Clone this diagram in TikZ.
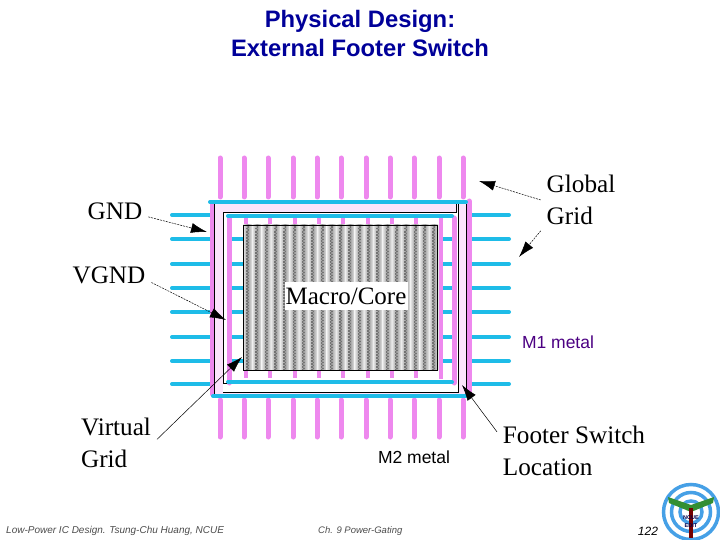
\documentclass[tikz,border=0pt]{standalone}
\usepackage{fontspec}
\setmainfont{Liberation Serif}
\setsansfont{Liberation Sans}
\usetikzlibrary{arrows.meta}
\definecolor{railblue}{RGB}{30,188,232}
\definecolor{strappink}{RGB}{238,136,238}
\definecolor{ringpink}{RGB}{251,228,251}
\definecolor{titleblue}{RGB}{0,0,153}
\definecolor{m1purple}{RGB}{75,0,130}
\definecolor{logoblue}{RGB}{70,160,230}
\tikzset{
    lbl/.style={inner sep=0pt,outer sep=6pt,align=left,font=\fontsize{25.2}{32}\selectfont},
    metal/.style={inner sep=0pt,font=\sffamily\fontsize{17.5}{20}\selectfont},
    foot/.style={inner sep=0pt,text=black!70,font=\sffamily\itshape\fontsize{9.5}{11}\selectfont},
    rail/.style={railblue,line width=4pt,line cap=round},
    strap/.style={strappink,line width=5pt,line cap=round},
    ptr/.style={-{Latex[length=16pt,width=10pt]},line width=.5pt},
    ptrdash/.style={ptr,dash pattern=on 2pt off 1pt},
    check/.style={black!55,line width=1.5pt,dash pattern=on 1.5pt off 1.5pt}
}
\begin{document}
\begin{tikzpicture}[x=1pt,y=-1pt]
    \useasboundingbox (0,0) rectangle (720,540);
    \node[inner sep=0pt,align=center,text=titleblue,font=\sffamily\bfseries\fontsize{23.8}{29}\selectfont] (title) at (360,33) {Physical Design:\\External Footer Switch};
    \fill[ringpink] (214,204) rectangle (466,394);
    \fill[white] (223,212) rectangle (458,392);
    \foreach \ypos in {215,239,264,288,312,337,361,384} {
        \draw[rail] (172,\ypos) -- (210,\ypos);
        \draw[rail] (471,\ypos) -- (509,\ypos);
    }
    \foreach \ypos in {239,264,288,312,337,361} {
        \draw[railblue,line width=4pt] (231,\ypos) -- (243,\ypos);
        \draw[railblue,line width=4pt] (437,\ypos) -- (452,\ypos);
    }
    \foreach \xpos in {220,244,268,293,317,341,366,390,414,439,463} {
        \draw[strap] (\xpos,158) -- (\xpos,197);
        \draw[strap] (\xpos,400) -- (\xpos,437);
    }
    \foreach \xpos in {246,270,295,319,343,368,392,416} {
        \draw[strappink,line width=4pt] (\xpos,216) -- (\xpos,225);
        \draw[strappink,line width=4pt] (\xpos,370) -- (\xpos,378);
    }
    \draw[strap] (212,204) -- (212,394);
    \draw[strap] (469,201) -- (469,393);
    \draw[strap] (229,218) -- (229,383);
    \draw[strap] (454,218) -- (454,383);
    \draw[strappink,line width=4pt] (441,218) -- (441,379);
    \draw[rail] (210,202) -- (466,202);
    \draw[rail] (228,216) -- (452,216);
    \draw[rail] (228,382) -- (452,382);
    \draw[rail] (213,396) -- (466,396);
    \draw[line width=.8pt] (214.5,204) -- (214.5,394);
    \draw[line width=.8pt] (466,204) -- (466,394);
    \draw[line width=.8pt] (456,204) -- (456,212) -- (223,212) -- (223,383) -- (227,383);
    \draw[line width=.8pt] (458,204) -- (458,392.5) -- (223,392.5);
    \fill[black!25] (243,225) rectangle (437,370);
    \foreach \xpos in {0,...,20} {
        \shade[left color=black!8,right color=black!40] ({243+\xpos*9.3},225) rectangle ({247.65+\xpos*9.3},370);
        \shade[left color=black!40,right color=black!8] ({247.65+\xpos*9.3},225) rectangle ({252.3+\xpos*9.3},370);
        \draw[check] ({246.9+\xpos*9.3},225) -- +(0,145);
        \draw[check] ({248.4+\xpos*9.3},226.5) -- +(0,143.5);
    }
    \draw[line width=.8pt] (243,225) rectangle (437,370);
    \node[fill=white,minimum width=123pt,minimum height=28pt,inner sep=0pt,font=\fontsize{25}{30}\selectfont] (core) at (346,296) {Macro/Core};
    \node[lbl] (gnd) at (115,211) {GND};
    \node[lbl] (vgnd) at (109,275) {VGND};
    \node[lbl] (virtual) at (116,443) {Virtual\\Grid};
    \node[lbl] (global) at (581,200) {Global\\Grid};
    \node[lbl] (footer) at (574,451) {Footer Switch\\Location};
    \node[metal,text=m1purple] (m1) at (558,342) {M1 metal};
    \node[metal] (m2) at (414,457) {M2 metal};
    \coordinate (gndtip) at (207,232);
    \coordinate (vgndtip) at (226,320);
    \coordinate (virtualtip) at (242,357);
    \coordinate (globaltip) at (479,181);
    \coordinate (gridtip) at (519,257);
    \coordinate (footertip) at (462,385);
    \draw[ptrdash] (gnd.-10) -- (gndtip);
    \draw[ptrdash] (vgnd.-10) -- (vgndtip);
    \draw[ptr] (virtual.5) -- (virtualtip);
    \draw[ptrdash] (global.west) -- (globaltip);
    \draw[ptrdash] (global.south west) -- (gridtip);
    \draw[ptr] (footer.166) -- (footertip);
    \node[foot,anchor=west,font=\sffamily\itshape\fontsize{10}{11}\selectfont] (course) at (6,531) {Low-Power IC Design. Tsung-Chu Huang, NCUE};
    \node[foot,anchor=west] (chapter) at (318,531) {Ch. 9 Power-Gating};
    \node[inner sep=0pt,font=\sffamily\itshape\fontsize{12}{14}\selectfont] (page) at (648,531) {122};
    \foreach \rad in {11,19.5,27.5} {
        \draw[logoblue,line width=3.5pt] (691,512) circle (\rad);
    }
    \fill[green!45!black!80] (691,512) -- (669,503) -- (668,497) -- (691,505) -- (714,497) -- (713,503) -- cycle;
    \draw[red!45!black,line width=3.3pt] (691,508) -- (691,538);
    \node[inner sep=0pt,align=center,text=blue!30!black,font=\sffamily\bfseries\fontsize{5.5}{8}\selectfont] (logo) at (691,522) {NCUE\\EDIT};
\end{tikzpicture}
\end{document}
